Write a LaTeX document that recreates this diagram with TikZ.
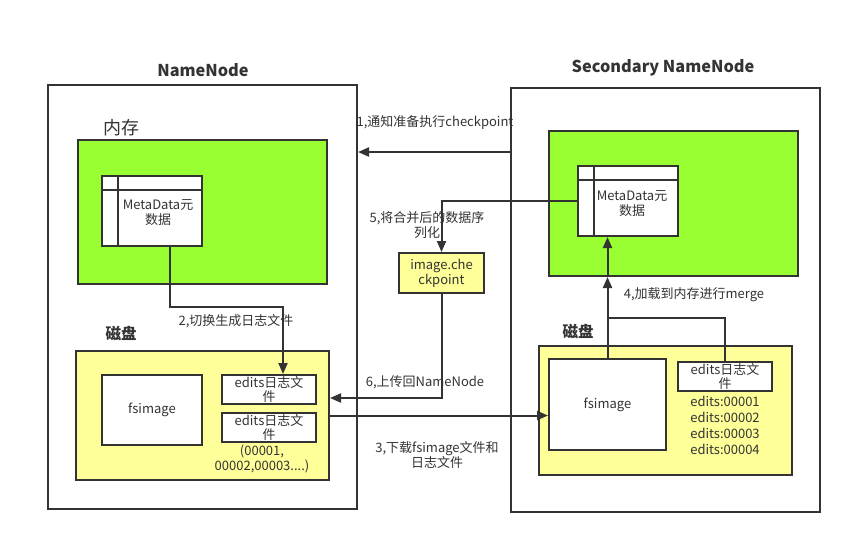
\documentclass[tikz,border=0pt]{standalone}
\usepackage{fontspec}
\setmainfont{Noto Sans CJK SC}
\usetikzlibrary{arrows.meta}
\definecolor{ln}{HTML}{333333}
\definecolor{memgreen}{HTML}{99FF33}
\definecolor{diskyellow}{HTML}{FFFF99}
\tikzset{
  box/.style={draw=ln, line width=2pt, inner sep=0pt},
  lbl/.style={text=ln, font=\fontsize{13}{15}\selectfont, align=center, inner sep=0pt},
  title/.style={text=ln, font=\fontsize{16.3}{19}\selectfont\bfseries, inner sep=0pt},
  conn/.style={draw=ln, line width=2pt},
  arr/.style={conn, -{Triangle[length=11pt,width=9pt]}},
}
\begin{document}
\begin{tikzpicture}[x=1pt,y=-1pt]
\useasboundingbox[fill=white] (0,0) rectangle (852,544);
% outer boxes
\node[box, minimum width=309, minimum height=424] (nn) at (202.5,297) {};
\node[box, minimum width=309, minimum height=424] (snn) at (665.5,300) {};
\node[title] (tnn) at (203,70) {NameNode};
\node[title] (tsnn) at (663,68) {Secondary NameNode};
% memory
\node[box, fill=memgreen, minimum width=249, minimum height=144] (mem1) at (202.5,212) {};
\node[box, fill=memgreen, minimum width=249, minimum height=145] (mem2) at (673.5,203.5) {};
\node[text=ln, font=\fontsize{18}{20}\selectfont, inner sep=0pt] (lmem) at (121,128) {内存};
% metadata tables
\node[box, fill=white, minimum width=100, minimum height=70] (meta1) at (152,211) {};
\draw[ln, line width=1.5pt] (meta1.north west |- 0,190) -- (meta1.north east |- 0,190);
\draw[ln, line width=1.5pt] (118,0 |- meta1.north) -- (118,0 |- meta1.south);
\node[lbl] (tmeta1) at (158,213) {MetaData元\\数据};
\node[box, fill=white, minimum width=100, minimum height=70] (meta2) at (628,201) {};
\draw[ln, line width=1.5pt] (meta2.north west |- 0,180) -- (meta2.north east |- 0,180);
\draw[ln, line width=1.5pt] (594,0 |- meta2.north) -- (594,0 |- meta2.south);
\node[lbl] (tmeta2) at (632,204) {MetaData元\\数据};
% disks
\node[box, fill=diskyellow, minimum width=253, minimum height=129] (disk1) at (202.5,415.5) {};
\node[box, fill=diskyellow, minimum width=253, minimum height=129] (disk2) at (665.5,410.5) {};
\node[text=ln, font=\fontsize{15.5}{18}\selectfont\bfseries, inner sep=0pt] (ldisk1) at (121,333) {磁盘};
\node[text=ln, font=\fontsize{15.5}{18}\selectfont\bfseries, inner sep=0pt] (ldisk2) at (578,331) {磁盘};
\node[box, fill=white, minimum width=100, minimum height=70, lbl] (fs1) at (152,410) {fsimage};
\node[box, fill=white, minimum width=94, minimum height=29, lbl, font=\fontsize{13}{14}\selectfont] (ed1a) at (269,389.5) {edits日志文\\件};
\node[box, fill=white, minimum width=94, minimum height=29, lbl, font=\fontsize{13}{14}\selectfont] (ed1b) at (269,427.5) {edits日志文\\件};
\node[lbl] (nums) at (262,459) {(00001,\\00002,00003....)};
\node[box, fill=white, minimum width=117, minimum height=91, lbl] (fs2) at (607.5,404.5) {fsimage};
\node[box, fill=white, minimum width=94, minimum height=29, lbl, font=\fontsize{13}{14}\selectfont] (ed2) at (725,376.5) {edits日志文\\件};
\node[lbl, font=\fontsize{13}{16}\selectfont] (edl) at (725,425) {edits:00001\\edits:00002\\edits:00003\\edits:00004};
% checkpoint
\node[box, fill=diskyellow, minimum width=85, minimum height=40, lbl] (ick) at (441.5,273) {image.che\\ckpoint};
% connectors
\coordinate (p1) at (511,152);
\draw[arr] (p1) -- (nn.east |- p1);
\node[lbl] (l1) at (435,123) {1,通知准备执行checkpoint};
\draw[arr] ([xshift=18pt]meta1.south) -- ++(0,60) -| ([xshift=14pt]ed1a.north);
\node[lbl] (l2) at (236,321) {2,切换生成日志文件};
\draw[arr] (disk1.east) -- (disk1.east -| fs2.west);
\node[lbl] (l3) at (437,455) {3,下载fsimage文件和\\日志文件};
\coordinate (j4) at (mem2.south -| fs2.north);
\draw[arr] (fs2.north) -- (j4);
\draw[arr] (j4) -- (meta2.south -| fs2.north);
\draw[conn] (ed2.north) |- (fs2.north |- 0,318);
\node[lbl] (l4) at (694,295) {4,加载到内存进行merge};
\draw[arr] (meta2.west) -| (ick.north);
\node[lbl] (l5) at (427,225) {5,将合并后的数据序\\列化};
\draw[arr] (ick.south) |- ([yshift=17.5pt]disk1.east);
\node[lbl] (l6) at (425,382) {6,上传回NameNode};
\end{tikzpicture}
\end{document}
